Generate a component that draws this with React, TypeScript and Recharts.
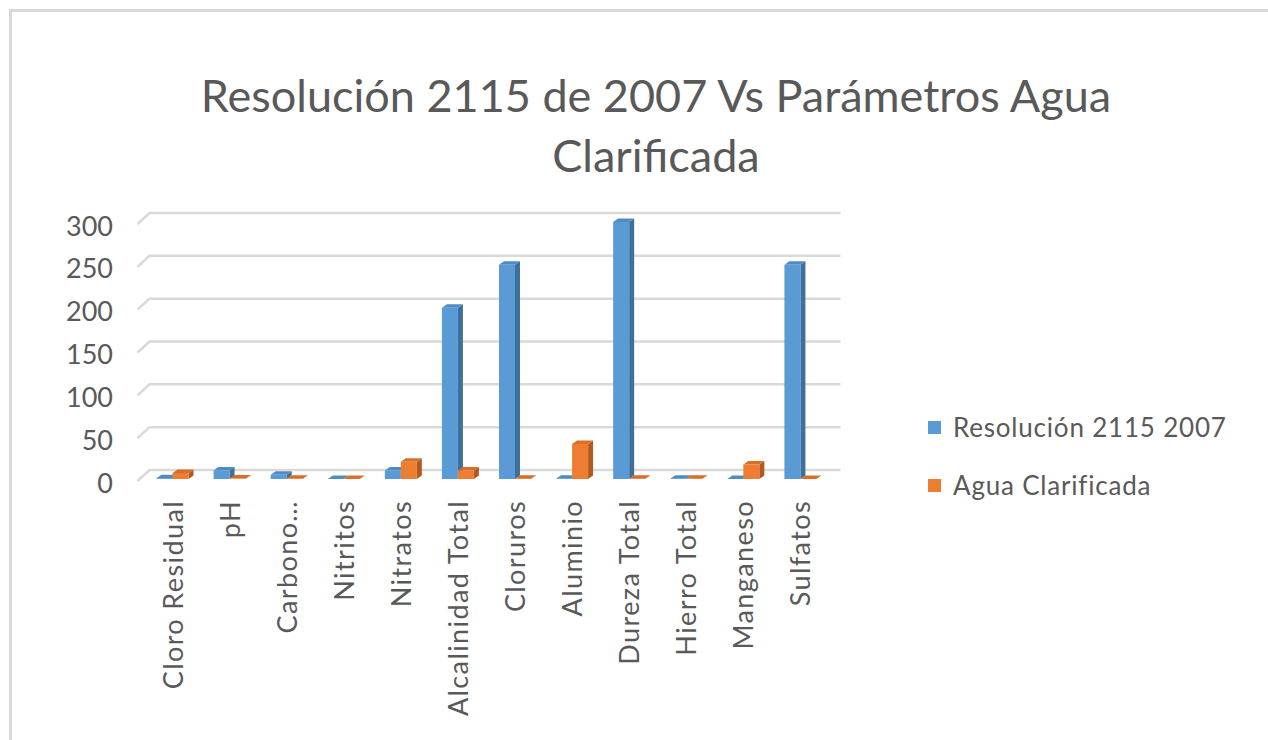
import React from "react";
import {
  BarChart,
  Bar,
  XAxis,
  YAxis,
  CartesianGrid,
  Legend,
} from "recharts";

//========== Chart Data ==========
const categories: string[] = [
  "Cloro Residual",
  "pH",
  "Carbono Orgánico Total",
  "Nitritos",
  "Nitratos",
  "Alcalinidad Total",
  "Cloruros",
  "Aluminio",
  "Dureza Total",
  "Hierro Total",
  "Manganeso",
  "Sulfatos",
];
const resolucion: number[] = [1, 10, 5, 0.1, 10, 200, 250, 0.2, 300, 0.3, 0.1, 250];
const aguaClarificada: number[] = [7, 0.5, 0.2, 0.1, 20, 10, 0.3, 41, 0.2, 0.2, 17, 0];
const yTicks: number[] = [0, 50, 100, 150, 200, 250, 300];

const data = categories.map((name, i) => ({
  name,
  resolucion: resolucion[i],
  agua: aguaClarificada[i],
}));

const FONT = "Lato, 'Open Sans', sans-serif";
const TEXT = "#595959";

//========== 3D Bar Shape ==========
const make3DBar = (front: string, side: string, top: string) => (props: any) => {
  const { x, y, width, height } = props;
  if (x == null || y == null) return null;
  const dx = 5;
  const dy = 3.5;
  const h = Math.max(height, 0);
  return (
    <g>
      <polygon
        points={`${x + width},${y} ${x + width + dx},${y - dy} ${x + width + dx},${y + h - dy} ${x + width},${y + h}`}
        fill={side}
      />
      <polygon
        points={`${x},${y} ${x + dx},${y - dy} ${x + width + dx},${y - dy} ${x + width},${y}`}
        fill={top}
      />
      <rect x={x} y={y} width={width} height={h} fill={front} />
    </g>
  );
};

const BlueBar = make3DBar("#5b9bd5", "#3f6f9b", "#4f8cc4");
const OrangeBar = make3DBar("#ed7d31", "#b15a1f", "#d96f27");

//========== Grid Line with Perspective Slant ==========
const GridLine = (props: any) => {
  const { x1, x2, y1 } = props;
  return (
    <path
      key={`g-${y1}`}
      d={`M${x1 - 6},${y1 + 2} L${x1 + 6},${y1 - 9} L${x2 + 12},${y1 - 9}`}
      fill="none"
      stroke="#d9d9d9"
      strokeWidth={2.5}
    />
  );
};

//========== Axis Ticks ==========
const YTick = (props: any) => {
  const { y, payload } = props;
  return (
    <text
      x={113}
      y={y + 3}
      textAnchor="end"
      dominantBaseline="central"
      fill={TEXT}
      fontSize={27}
      fontFamily={FONT}
    >
      {payload.value}
    </text>
  );
};

const shortLabel = (v: string) => (v.length > 18 ? v.split(" ")[0] + "…" : v);

const XTick = (props: any) => {
  const { x, payload } = props;
  const ty = 500;
  return (
    <text
      x={x}
      y={ty}
      transform={`rotate(-90, ${x}, ${ty})`}
      textAnchor="end"
      dominantBaseline="central"
      fill={TEXT}
      fontSize={27}
      letterSpacing={1.4}
      fontFamily={FONT}
    >
      {shortLabel(payload.value)}
    </text>
  );
};

//========== Legend ==========
const legendOrder = ["resolucion", "agua"];

const LegendContent = (props: any) => {
  const { payload } = props;
  const items = [...payload].sort(
    (a: any, b: any) => legendOrder.indexOf(a.dataKey) - legendOrder.indexOf(b.dataKey)
  );
  return (
    <div style={{ fontFamily: FONT, color: TEXT, fontSize: 26, letterSpacing: 0.8 }}>
      {items.map((p: any) => (
        <div
          key={p.value}
          style={{ display: "flex", alignItems: "center", height: 58 }}
        >
          <span
            style={{
              display: "inline-block",
              width: 13,
              height: 13,
              background: p.color,
              marginRight: 12,
            }}
          />
          {p.value}
        </div>
      ))}
    </div>
  );
};

//========== App ==========
export default function App() {
  return (
    <div
      style={{
        position: "fixed",
        left: 0,
        top: 0,
        width: 1268,
        height: 740,
        background: "#fff",
        overflow: "hidden",
      }}
    >
      {/*========== Frame ==========*/}
      <div
        style={{
          position: "absolute",
          left: 9,
          top: 9,
          width: 1300,
          height: 800,
          borderTop: "3px solid #d9d9d9",
          borderLeft: "3px solid #d9d9d9",
        }}
      />

      {/*========== Title ==========*/}
      <div
        style={{
          position: "absolute",
          left: 0,
          width: 1312,
          top: 65,
          textAlign: "center",
          fontFamily: FONT,
          fontSize: 45,
          lineHeight: "60px",
          color: TEXT,
        }}
      >
        Resolución 2115 de 2007 Vs Parámetros Agua
        <br />
        Clarificada
      </div>

      {/*========== Chart ==========*/}
      <div style={{ position: "absolute", left: 0, top: 0 }}>
        <BarChart
          width={1268}
          height={740}
          data={data}
          margin={{ top: 222, right: 439.5, bottom: 21, left: 83.5 }}
          barGap={0}
          barSize={16}
        >
          <CartesianGrid vertical={false} horizontal={GridLine} />
          <XAxis
            dataKey="name"
            axisLine={false}
            tickLine={false}
            interval={0}
            height={240}
            tick={XTick}
          />
          <YAxis
            width={60}
            domain={[0, 300]}
            ticks={yTicks}
            axisLine={false}
            tickLine={false}
            tick={YTick}
          />
          <Legend
            layout="vertical"
            verticalAlign="middle"
            align="center"
            content={LegendContent}
            wrapperStyle={{ left: 928, top: 398, width: 330 }}
          />
          <Bar
            dataKey="resolucion"
            name="Resolución 2115 2007"
            fill="#5b9bd5"
            shape={BlueBar}
            isAnimationActive={false}
          />
          <Bar
            dataKey="agua"
            name="Agua Clarificada"
            fill="#ed7d31"
            shape={OrangeBar}
            isAnimationActive={false}
          />
        </BarChart>
      </div>
    </div>
  );
}
